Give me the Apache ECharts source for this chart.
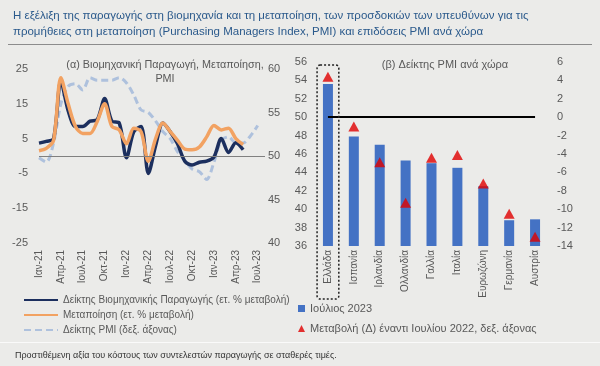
<!DOCTYPE html>
<html><head><meta charset="utf-8">
<script src="https://cdn.jsdelivr.net/npm/echarts@6/dist/echarts.min.js"></script>
<style>html,body{margin:0;padding:0;background:#EBEBE9;}#c{width:600px;height:366px;}</style>
</head><body><div id="c"></div>
<script>
// ---- Left panel data (monthly, Jan-21 .. Aug-23) ----
const months = ['Ιαν-21','Φεβ-21','Μαρ-21','Απρ-21','Μαϊ-21','Ιουν-21','Ιουλ-21','Αυγ-21','Σεπ-21','Οκτ-21','Νοε-21','Δεκ-21',
  'Ιαν-22','Φεβ-22','Μαρ-22','Απρ-22','Μαϊ-22','Ιουν-22','Ιουλ-22','Αυγ-22','Σεπ-22','Οκτ-22','Νοε-22','Δεκ-22',
  'Ιαν-23','Φεβ-23','Μαρ-23','Απρ-23','Μαϊ-23','Ιουν-23','Ιουλ-23','Αυγ-23'];
const industrialProduction = [3.7, 4.2, 5, 21.5, 13, 8.5, 8.5, 10, 10.5, 16.5, 10, 9.5, -0.5, 7, 8.5, -5, 3, 9.5, 7, 3.5, -1.5, -2.6, -1.8, -1.5, -0.3, 5, 1, 3.8, 1.8];
const manufacturing = [1.5, 2.2, 4.5, 22.5, 15, 8.5, 6.5, 6.5, 10, 15, 8.5, 7.5, 3.5, 8, 7, -1.5, 5, 9.5, 7, 4.5, 2, 1.8, 2.6, 5.5, 8.8, 7.5, 8, 5, 3.3];
const pmiGreece = [49.8, 49.3, 51.5, 56, 58, 58.3, 57.6, 59, 58.7, 58.7, 58.7, 59, 58.4, 57, 55.3, 55, 54, 52.8, 52, 50.5, 49.5, 48.5, 48.2, 47.3, 49.3, 51.8, 52.2, 51.5, 51.5, 52.3, 53.5];
const seriesNamesLeft = ['Δείκτης Βιομηχανικής Παραγωγής (ετ. % μεταβολή)', 'Μεταποίηση (ετ. % μεταβολή)', 'Δείκτης PMI (δεξ. άξονας)'];

// ---- Right panel data ----
const countries = ['Ελλάδα','Ισπανία','Ιρλανδία','Ολλανδία','Γαλλία','Ιταλία','Ευρωζώνη','Γερμανία','Αυστρία'];
const pmiJuly2023 = [53.6, 47.9, 47.0, 45.3, 45.0, 44.5, 42.5, 38.8, 38.9];
const changeVsJuly2022 = [4.4, -1.0, -4.9, -9.3, -4.4, -4.1, -7.2, -10.5, -13.0];
const seriesNamesRight = ['Ιούλιος 2023', 'Μεταβολή (Δ) έναντι Ιουλίου 2022, δεξ. άξονας'];

const titleText = 'Η εξέλιξη της παραγωγής στη βιομηχανία και τη μεταποίηση, των προσδοκιών των υπευθύνων για τις\nπρομήθειες στη μεταποίηση (Purchasing Managers Index, PMI) και επιδόσεις PMI ανά χώρα';
const footText = 'Προστιθέμενη αξία του κόστους των συντελεστών παραγωγής σε σταθερές τιμές.';

const FONT = '"Liberation Sans", Arial, sans-serif';
const grey = '#595959';
const chart = echarts.init(document.getElementById('c'));

chart.setOption({
  backgroundColor: '#EBEBE9',
  textStyle: { fontFamily: FONT },
  animation: false,
  title: [
    { text: titleText, left: 8, top: 3, textStyle: { fontFamily: FONT, fontSize: 11.5, fontWeight: 'normal', color: '#2B5A8C', lineHeight: 16 } },
    { text: '(α) Βιομηχανική Παραγωγή, Μεταποίηση,\nPMI', left: 160, top: 53, textAlign: 'center', textStyle: { fontFamily: FONT, fontSize: 10.8, fontWeight: 'normal', color: grey, lineHeight: 14, align: 'center' } },
    { text: '(β) Δείκτης PMI ανά χώρα', left: 440, top: 54, textAlign: 'center', textStyle: { fontFamily: FONT, fontSize: 11, fontWeight: 'normal', color: grey } },
    { text: footText, left: 10, top: 346, textStyle: { fontFamily: FONT, fontSize: 9, fontWeight: 'normal', color: '#333' } }
  ],
  legend: [
    { data: seriesNamesLeft, orient: 'vertical', left: 18, top: 290, itemWidth: 34, itemHeight: 10, itemGap: 5,
      itemStyle: { opacity: 0 },
      textStyle: { fontSize: 10, color: grey, fontFamily: FONT } },
    { data: [{ name: seriesNamesRight[0], icon: 'rect' }, { name: seriesNamesRight[1], icon: 'triangle' }],
      orient: 'vertical', left: 293, top: 298, itemWidth: 7, itemHeight: 7, itemGap: 9,
      textStyle: { fontSize: 11, color: grey, fontFamily: FONT } }
  ],
  grid: [
    { left: 39, width: 226, top: 69, height: 174 },
    { left: 315, width: 233, top: 62, height: 184 }
  ],
  xAxis: [
    { type: 'category', gridIndex: 0, data: months, boundaryGap: false,
      axisLine: { show: false }, axisTick: { show: false },
      axisLabel: { interval: 2, rotate: 90, fontSize: 10, color: grey, margin: 7 } },
    { type: 'category', gridIndex: 1, data: countries, boundaryGap: true,
      axisLine: { show: false }, axisTick: { show: false },
      axisLabel: { interval: 0, rotate: 90, fontSize: 10, color: grey, margin: 4 } }
  ],
  yAxis: [
    { type: 'value', gridIndex: 0, min: -25, max: 25, interval: 10, splitLine: { show: false },
      axisLine: { show: false }, axisTick: { show: false }, axisLabel: { fontSize: 11, color: grey, margin: 11 } },
    { type: 'value', gridIndex: 0, position: 'right', min: 40, max: 60, interval: 5, splitLine: { show: false },
      axisLine: { show: false }, axisTick: { show: false }, axisLabel: { fontSize: 11, color: grey, margin: 3 } },
    { type: 'value', gridIndex: 1, min: 36, max: 56, interval: 2, splitLine: { show: false },
      axisLine: { show: false }, axisTick: { show: false }, axisLabel: { fontSize: 11, color: grey, margin: 8 } },
    { type: 'value', gridIndex: 1, position: 'right', min: -14, max: 6, interval: 2, splitLine: { show: false },
      axisLine: { show: false }, axisTick: { show: false }, axisLabel: { fontSize: 11, color: grey, margin: 9 } }
  ],
  series: [
    { name: seriesNamesLeft[2], type: 'line', xAxisIndex: 0, yAxisIndex: 1, data: pmiGreece, smooth: 0.3,
      symbol: 'none', lineStyle: { color: '#AEC1DD', width: 3, type: [7, 4] }, itemStyle: { color: '#AEC1DD' }, z: 2 },
    { name: seriesNamesLeft[0], type: 'line', xAxisIndex: 0, yAxisIndex: 0, data: industrialProduction, smooth: 0.3,
      symbol: 'none', lineStyle: { color: '#1C2F5E', width: 3.5 }, itemStyle: { color: '#1C2F5E' }, z: 3,
      markLine: { silent: true, symbol: 'none', label: { show: false }, lineStyle: { color: '#808080', width: 1, type: 'solid' },
        data: [{ yAxis: 0 }] } },
    { name: seriesNamesLeft[1], type: 'line', xAxisIndex: 0, yAxisIndex: 0, data: manufacturing, smooth: 0.3,
      symbol: 'none', lineStyle: { color: '#F2A262', width: 3.5 }, itemStyle: { color: '#F2A262' }, z: 4 },
    { name: seriesNamesRight[0], type: 'bar', xAxisIndex: 1, yAxisIndex: 2, data: pmiJuly2023, barWidth: 10,
      itemStyle: { color: '#4472C4' }, z: 2 },
    { name: seriesNamesRight[1], type: 'scatter', xAxisIndex: 1, yAxisIndex: 3, data: changeVsJuly2022,
      symbol: 'triangle', symbolSize: [11, 10], itemStyle: { color: '#E00000' }, z: 4,
      markLine: { silent: true, symbol: 'none', label: { show: false }, lineStyle: { color: '#000', width: 2, type: 'solid' },
        data: [[{ xAxis: 0, yAxis: 0 }, { xAxis: countries.length - 1, yAxis: 0 }]] } }
  ]
});

// decorations: separators and dotted frame around Greece
const cx = chart.convertToPixel({ xAxisIndex: 1 }, countries[0]);
const band = 233 / countries.length;
chart.setOption({
  graphic: [
    { type: 'line', shape: { x1: 8, y1: 44.5, x2: 592, y2: 44.5 }, style: { stroke: '#8C8C8C', lineWidth: 1 } },
    { type: 'line', shape: { x1: 0, y1: 342.5, x2: 600, y2: 342.5 }, style: { stroke: '#FAFAFA', lineWidth: 1 } },
    { type: 'rect', shape: { x: cx - band * 0.42, y: 65, width: band * 0.84, height: 234, r: 3 },
      style: { fill: 'none', stroke: '#222', lineWidth: 1.5, lineDash: [2, 2] }, z: 10 }
  ]
});
</script></body></html>
